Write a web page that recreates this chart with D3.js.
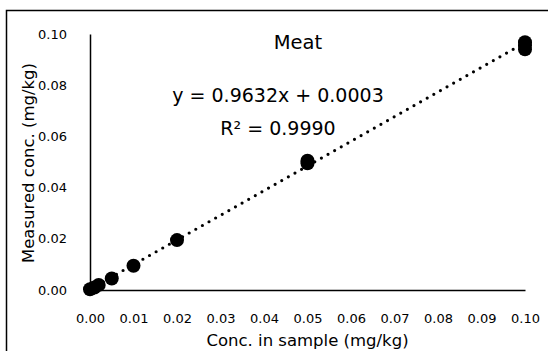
<!DOCTYPE html>
<html>
<head>
<meta charset="utf-8">
<script src="https://cdn.jsdelivr.net/npm/d3@7"></script>
<style>
  body { margin: 0; background: #fff; }
  svg { font-family: "DejaVu Sans", sans-serif; }
</style>
</head>
<body>
<div id="chart"></div>
<script>
// spiked concentration vs measured concentration (replicates)
const spiked = [0, 0.001, 0.002, 0.005, 0.01, 0.02, 0.05, 0.05, 0.1, 0.1, 0.1];
const measured = [0.0003, 0.001, 0.002, 0.0045, 0.0095, 0.0195, 0.0495, 0.0505, 0.094, 0.0955, 0.0968];
const xTicks = [0, 0.01, 0.02, 0.03, 0.04, 0.05, 0.06, 0.07, 0.08, 0.09, 0.1];
const yTicks = [0, 0.02, 0.04, 0.06, 0.08, 0.1];
const slope = 0.9632, intercept = 0.0003;

const W = 548, H = 351;
const margin = { top: 34, right: 23, bottom: 61, left: 90 },
  width = W - margin.left - margin.right,
  height = H - margin.top - margin.bottom;

const svg = d3.select("#chart").append("svg")
  .attr("width", W).attr("height", H);

// outer chart border (runs off the right / bottom edge)
svg.append("rect")
  .attr("x", 6.5).attr("y", 10.5)
  .attr("width", W).attr("height", H)
  .attr("fill", "none").attr("stroke", "#000").attr("stroke-width", 1.5);

const g = svg.append("g")
  .attr("transform", `translate(${margin.left},${margin.top})`);

const x = d3.scaleLinear().domain([0, 0.1]).range([0, width]);
const y = d3.scaleLinear().domain([0, 0.1]).range([height, 0]);

// x axis
const xAxis = g.append("g")
  .attr("transform", `translate(0,${height})`)
  .call(d3.axisBottom(x).tickValues(xTicks).tickFormat(d3.format(".2f")).tickSize(0).tickPadding(24));
xAxis.select(".domain").attr("stroke-width", 1.5);
xAxis.selectAll("text").attr("font-size", 13).attr("font-family", "DejaVu Sans");

// y axis
const yAxis = g.append("g")
  .call(d3.axisLeft(y).tickValues(yTicks).tickFormat(d3.format(".2f")).tickSize(0).tickPadding(23));
yAxis.select(".domain").attr("stroke-width", 1.5);
yAxis.selectAll("text").attr("font-size", 13).attr("font-family", "DejaVu Sans");

// axis titles
g.append("text")
  .attr("x", width / 2).attr("y", height + 56)
  .attr("text-anchor", "middle").attr("font-size", 16.5)
  .text("Conc. in sample (mg/kg)");

g.append("text")
  .attr("transform", "rotate(-90)")
  .attr("x", -129).attr("y", -56)
  .attr("text-anchor", "middle").attr("font-size", 16.5)
  .text("Measured conc. (mg/kg)");

// trendline (dotted)
const line = d3.line().x(d => x(d)).y(d => y(slope * d + intercept));
g.append("path")
  .datum([0, 0.1])
  .attr("d", line)
  .attr("fill", "none").attr("stroke", "#000")
  .attr("stroke-width", 3.2)
  .attr("stroke-linecap", "round")
  .attr("stroke-dasharray", "0 7.6");

// points
g.selectAll("circle")
  .data(spiked.map((s, i) => ({ s, m: measured[i] })))
  .join("circle")
  .attr("cx", d => x(d.s))
  .attr("cy", d => y(d.m))
  .attr("r", 7)
  .attr("fill", "#000");

// title and equation
g.append("text")
  .attr("x", 208).attr("y", 15)
  .attr("text-anchor", "middle").attr("font-size", 19.5)
  .text("Meat");

g.append("text")
  .attr("x", 188).attr("y", 68)
  .attr("text-anchor", "middle").attr("font-size", 19)
  .text("y = 0.9632x + 0.0003");

g.append("text")
  .attr("x", 188).attr("y", 101)
  .attr("text-anchor", "middle").attr("font-size", 19)
  .text("R² = 0.9990");
</script>
</body>
</html>
